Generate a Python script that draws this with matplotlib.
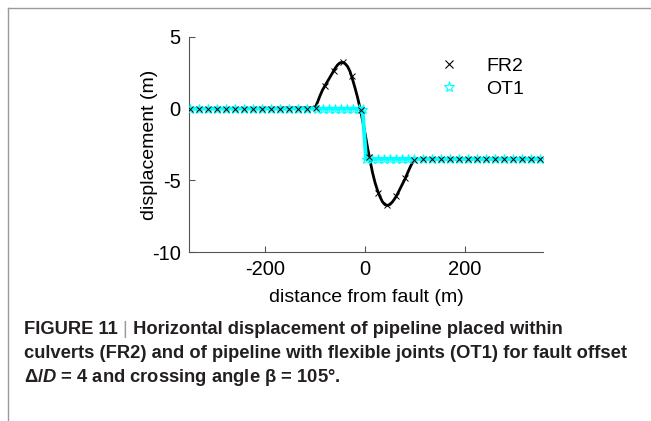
import numpy as np
import matplotlib
matplotlib.use("Agg")
import matplotlib.pyplot as plt
from matplotlib.lines import Line2D
from matplotlib import font_manager as fm

# ---------------- data ----------------
# FR2 (pipeline within culverts): smooth displacement curve
fr2_x = [-350, -100, -95, -90, -85, -80, -75, -70, -65, -60, -55, -50, -45, -40, -35,
         -30, -25, -20, -15, -10, -5, 0, 5, 10, 15, 20, 25, 30, 35, 40, 45, 50, 55,
         60, 65, 70, 75, 80, 85, 90, 95, 100, 105, 350]
fr2_y = [0.0, 0.05, 0.45, 0.9, 1.3, 1.6, 1.9, 2.2, 2.5, 2.8, 3.05, 3.2, 3.23, 3.15, 2.95,
         2.6, 2.05, 1.45, 0.8, 0.05, -0.8, -1.7, -2.7, -3.6, -4.45, -5.15, -5.7, -6.15,
         -6.5, -6.7, -6.75, -6.68, -6.5, -6.25, -5.95, -5.6, -5.25, -4.9, -4.5, -4.1,
         -3.75, -3.55, -3.5, -3.5]
# FR2 marker points
fr2_mx = list(np.linspace(-350, 350, 40))
fr2_my = [0.0] * 14 + [0.05, 1.55, 2.65, 3.23, 2.25, -0.1, -3.4, -5.85, -6.75, -6.1,
                       -4.85, -3.6] + [-3.5] * 14

# OT1 (pipeline with flexible joints)
ot1_x = [-350, -5, 2, 350]
ot1_y = [0.0, 0.0, -3.5, -3.5]
ot1_mx = [x for x in fr2_mx if x < -100] + [-96, -84, -72, -60, -48, -36, -24, -12, -5,
                                            2, 14, 26, 38, 50, 62, 74, 86, 98] + \
         [x for x in fr2_mx if x > 100]
ot1_my = [0.0 if x < 0 else -3.5 for x in ot1_mx]

xticks = [-200, 0, 200]
yticks = [5, 0, -5, -10]

# ---------------- fonts ----------------
names = {f.name for f in fm.fontManager.ttflist}
base = "Liberation Sans" if "Liberation Sans" in names else "DejaVu Sans"
narrow = "Liberation Sans Narrow" if "Liberation Sans Narrow" in names else base
plt.rcParams["font.family"] = [base, "DejaVu Sans"]
plt.rcParams["axes.unicode_minus"] = False
plt.rcParams["mathtext.fontset"] = "custom"
plt.rcParams["mathtext.it"] = f"{narrow}:italic:bold"
plt.rcParams["mathtext.rm"] = f"{narrow}:bold"

W, H = 651, 421
fig = plt.figure(figsize=(W / 100, H / 100), dpi=100)
ax = fig.add_axes([189 / W, 1 - 252 / H, 354 / W, 215 / H])

ax.plot(fr2_x, fr2_y, color="black", lw=2.0, zorder=2)
ax.plot(ot1_x, ot1_y, color="#00FFFF", lw=2.8, zorder=3)
ax.plot(ot1_mx, ot1_my, linestyle="none", marker="*", ms=6.5, mfc="none",
        mec="#00FFFF", mew=0.8, zorder=4)
ax.plot(fr2_mx, fr2_my, linestyle="none", marker="x", ms=5, color="black",
        mew=0.7, zorder=5)

ax.set_xlim(-352, 356)
ax.set_ylim(-10, 5)
ax.set_xticks(xticks)
ax.set_yticks(yticks)
ax.spines["top"].set_visible(False)
ax.spines["right"].set_visible(False)
for s in ("left", "bottom"):
    ax.spines[s].set_color("#555555")
    ax.spines[s].set_linewidth(0.8)
ax.tick_params(direction="in", length=4, width=0.8, color="#555555",
               labelsize=14.5, pad=6)
ax.set_xlabel("distance from fault (m)", fontsize=14)
ax.set_ylabel("displacement (m)", fontsize=14)
ax.xaxis.set_label_coords(0.5, -37 / 215)
ax.yaxis.set_label_coords(-31 / 354, 0.5)

h1 = Line2D([], [], linestyle="none", marker="x", ms=6, color="black", mew=0.8)
h2 = Line2D([], [], linestyle="none", marker="*", ms=8, mfc="none", mec="#00FFFF", mew=0.8)
leg = ax.legend([h1, h2], ["FR2", "OT1"], loc="upper left",
                bbox_to_anchor=(412 / W, 1 - 40 / H), bbox_transform=fig.transFigure,
                frameon=False, fontsize=14, handlelength=2.0, handletextpad=0.9,
                labelspacing=0.25)

# frame lines of the figure panel
fig.add_artist(Line2D([8 / W, 1], [1 - 8 / H, 1 - 8 / H], color="#9a9a9a", lw=1.0))
fig.add_artist(Line2D([8 / W, 8 / W], [0, 1 - 8 / H], color="#9a9a9a", lw=1.0))

# caption
cap_kw = dict(fontsize=13.2, fontweight="bold", family=[narrow, "DejaVu Sans"],
              color="#231f20", va="baseline", ha="left")
t1 = fig.text(24 / W, 1 - 334 / H, "FIGURE 11 ", **cap_kw)
r = fig.canvas.get_renderer()
w1 = t1.get_window_extent(r).width
bar = fig.text(24 / W + w1 / W, 1 - 334 / H, "|", fontsize=13.2, color="#9a9a9a",
               va="baseline", ha="left", family=[narrow, "DejaVu Sans"])
w2 = bar.get_window_extent(r).width
fig.text(24 / W + (w1 + w2) / W, 1 - 334 / H,
         " Horizontal displacement of pipeline placed within", **cap_kw)
fig.text(24 / W, 1 - 358 / H,
         "culverts (FR2) and of pipeline with flexible joints (OT1) for fault offset", **cap_kw)
fig.text(24 / W, 1 - 382 / H,
         "Δ/$D$ = 4 and crossing angle β = 105°.", **cap_kw)

fig.savefig("out.png", dpi=100)
